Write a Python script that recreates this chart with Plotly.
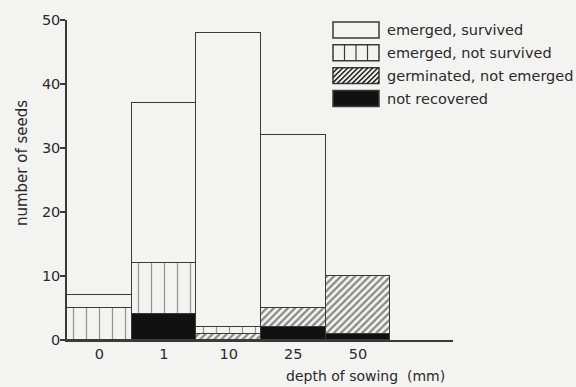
import plotly.graph_objects as go

# ---- data ----
depths = ["0", "1", "10", "25", "50"]
not_recovered = [0, 4, 0, 2, 1]
germinated_not_emerged = [0, 0, 1, 3, 9]
emerged_not_survived = [5, 8, 1, 0, 0]
emerged_survived = [2, 25, 46, 27, 0]
y_ticks = [0, 10, 20, 30, 40, 50]
legend_labels = ["emerged, survived", "emerged, not survived",
                 "germinated, not emerged", "not recovered"]

BG = "#f3f3f1"
INK = "#3a3a3a"
TXT = "#2a2a2a"
FONT = "DejaVu Sans"
W, H = 576, 387
L, R, T, B = 67, 123, 18, 47

fig = go.Figure()
line = dict(color=INK, width=1.5)
fig.add_bar(x=depths, y=not_recovered, marker=dict(color="#111111", line=line),
            name=legend_labels[3])
fig.add_bar(x=depths, y=germinated_not_emerged,
            marker=dict(color=BG, line=line,
                        pattern=dict(shape="/", fgcolor="#1a1a1a", bgcolor=BG, size=5, solidity=0.45)),
            name=legend_labels[2])
fig.add_bar(x=depths, y=emerged_not_survived,
            marker=dict(color=BG, line=line,
                        pattern=dict(shape="|", fgcolor=INK, bgcolor=BG, size=13, solidity=0.1)),
            name=legend_labels[1])
fig.add_bar(x=depths, y=emerged_survived, marker=dict(color=BG, line=line),
            name=legend_labels[0])

# ---- manual legend (pixel -> paper conversion) ----
pw, ph = W - L - R, H - T - B
def px(x):
    return (x - L) / pw
def py(y):
    return (H - B - y) / ph

shapes = []
annotations = []
bx0, bx1 = 333, 379
rows = [(20, 36), (43, 59), (66, 82), (89, 105)]
for i, (y0, y1) in enumerate(rows):
    fill = "#111111" if i == 3 else BG
    shapes.append(dict(type="rect", xref="paper", yref="paper",
                       x0=px(bx0), x1=px(bx1), y0=py(y1), y1=py(y0),
                       fillcolor=fill, line=dict(color=INK, width=1.5), layer="above"))
    if i == 1:
        for k in range(1, 4):
            xx = bx0 + k * (bx1 - bx0) / 4
            shapes.append(dict(type="line", xref="paper", yref="paper",
                               x0=px(xx), x1=px(xx), y0=py(y1), y1=py(y0),
                               line=dict(color=INK, width=1.2), layer="above"))
    if i == 2:
        p = 5
        c = bx0 + y0 + p
        while c < bx1 + y1:
            xa = max(bx0, c - y1)
            xb = min(bx1, c - y0)
            if xb > xa:
                shapes.append(dict(type="line", xref="paper", yref="paper",
                                   x0=px(xa), y0=py(c - xa), x1=px(xb), y1=py(c - xb),
                                   line=dict(color="#222222", width=1.5), layer="above"))
            c += p
    annotations.append(dict(xref="paper", yref="paper", x=px(385), y=py((y0 + y1) / 2),
                            text=legend_labels[i], showarrow=False, xanchor="left",
                            yanchor="middle", font=dict(family=FONT, size=14.5, color=TXT)))

annotations.append(dict(xref="paper", yref="paper", x=px(284), y=py(376),
                        text="depth of sowing  (mm)", showarrow=False, xanchor="left",
                        yanchor="middle", font=dict(family=FONT, size=14, color=TXT)))
annotations.append(dict(xref="paper", yref="paper", x=px(22), y=py(162),
                        text="number of seeds", showarrow=False, textangle=-90,
                        xanchor="center", yanchor="middle",
                        font=dict(family=FONT, size=15, color=TXT)))

fig.update_layout(
    width=W, height=H, barmode="stack", bargap=0,
    paper_bgcolor=BG, plot_bgcolor=BG, showlegend=False,
    margin=dict(l=L, r=R, t=T, b=B, pad=0),
    shapes=shapes, annotations=annotations,
    font=dict(family=FONT, size=14, color=TXT),
)
fig.update_xaxes(type="category", range=[-0.5, 5.47], showline=True, linecolor=INK,
                 linewidth=1.5, ticks="", showgrid=False, zeroline=False,
                 tickfont=dict(family=FONT, size=14.5))
fig.update_yaxes(range=[0, 50], tickvals=y_ticks, showline=True, linecolor=INK,
                 linewidth=1.5, ticks="outside", ticklen=5, tickwidth=1.5, tickcolor=INK,
                 showgrid=False, zeroline=False, tickfont=dict(family=FONT, size=14.5),
                 ticklabelstandoff=-3)

fig.write_html("out.html")
